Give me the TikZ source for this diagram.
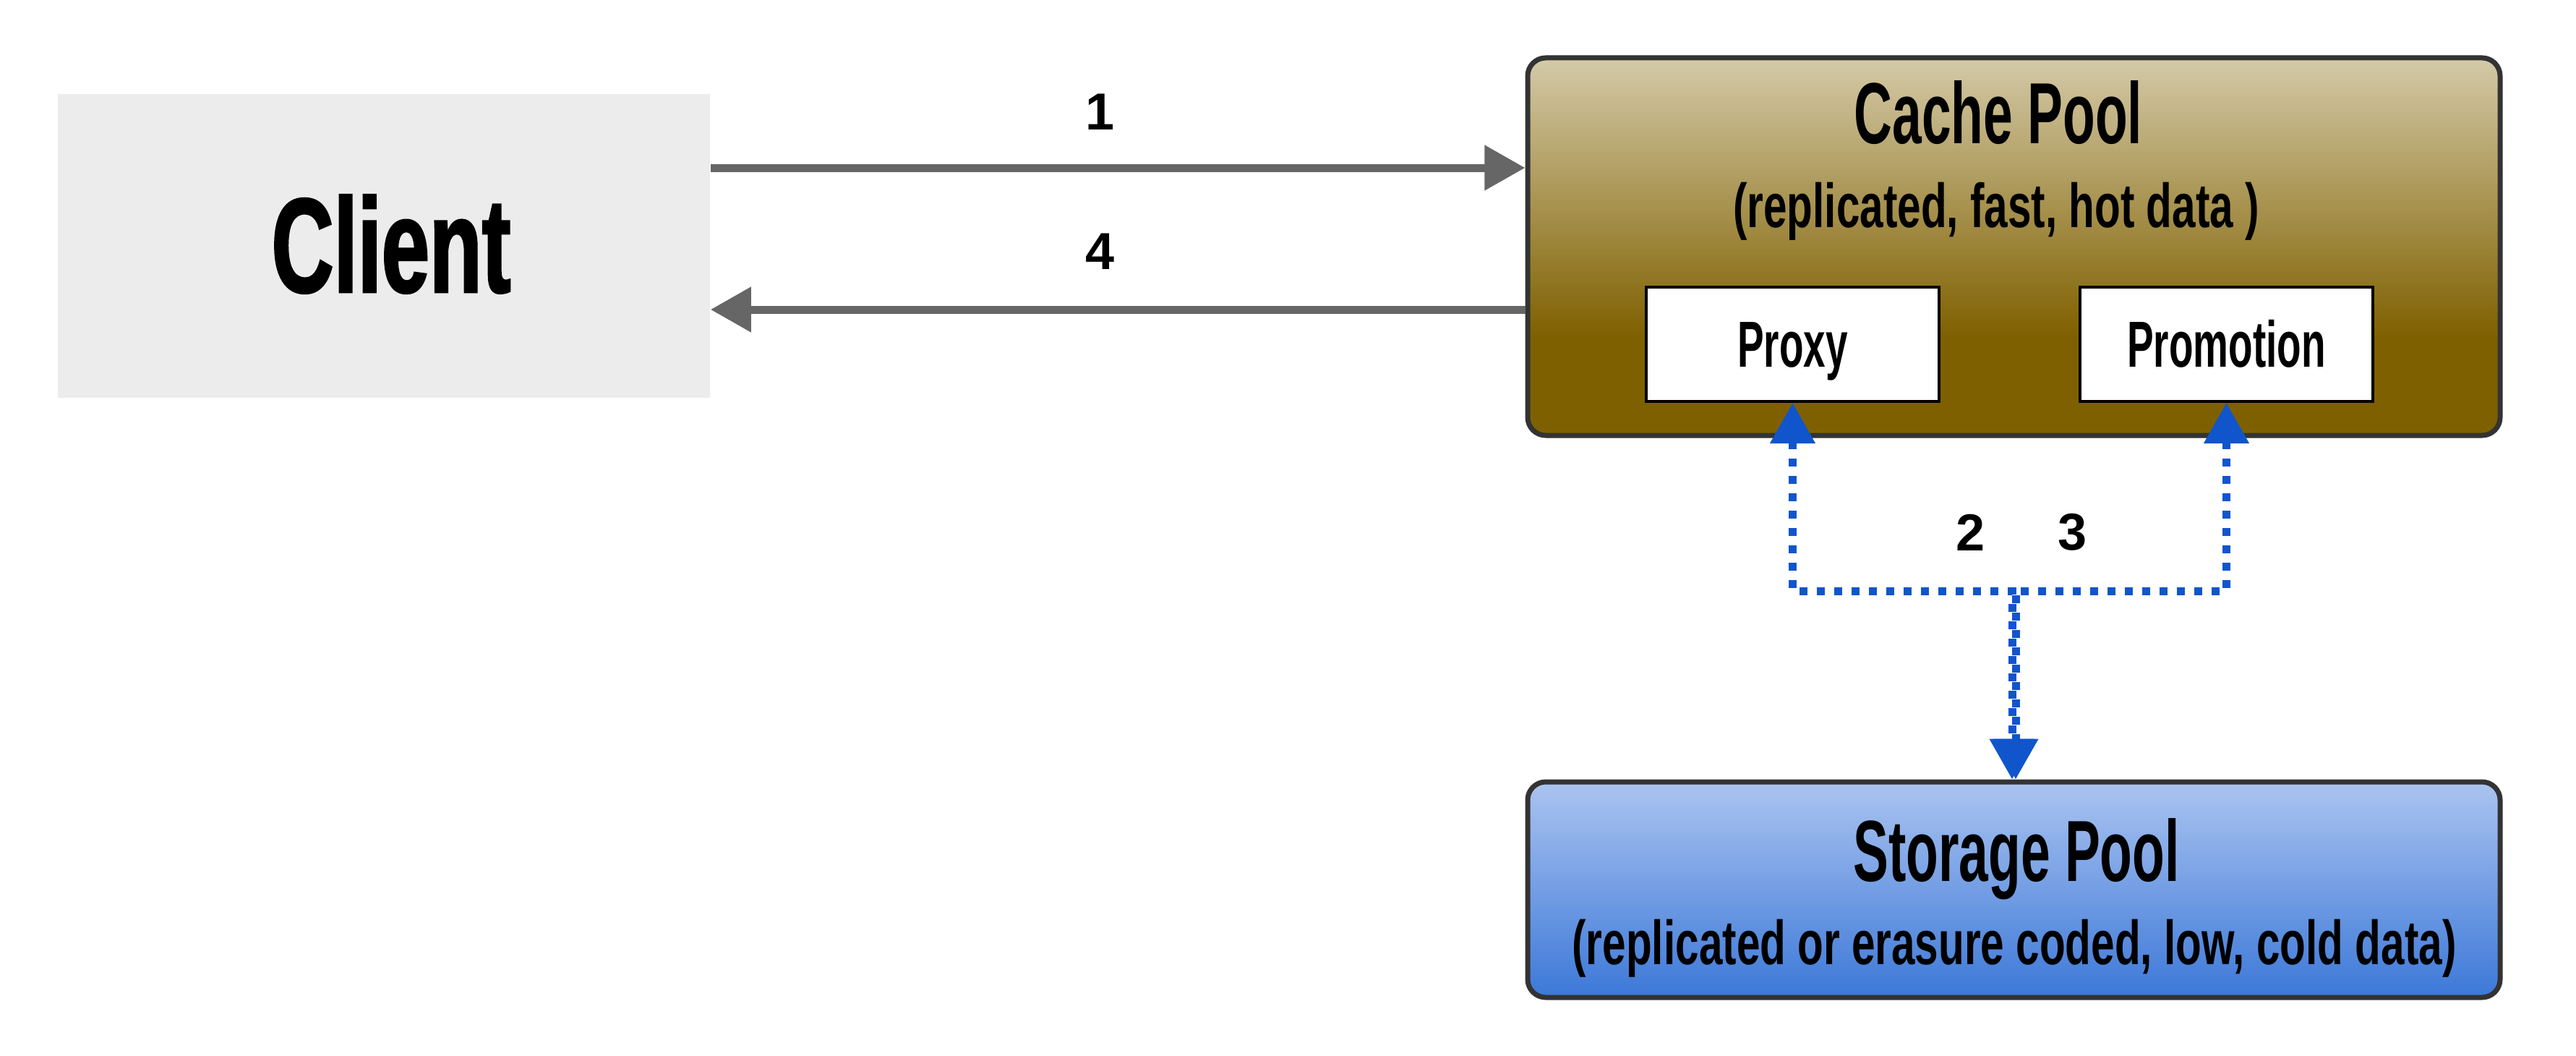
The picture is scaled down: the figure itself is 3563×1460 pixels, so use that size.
\documentclass[tikz,border=0pt]{standalone}
\usepackage{fontspec}
\setmainfont{Liberation Sans}
\newfontfamily\clientfont[FakeStretch=0.64,FakeBold=1.5]{Liberation Sans}
\newfontfamily\titlefont[FakeStretch=0.61]{Liberation Sans}
\newfontfamily\subfont[FakeStretch=0.68]{Liberation Sans}
\usetikzlibrary{arrows.meta}
\definecolor{clientgray}{HTML}{ECECEC}
\definecolor{arrowgray}{HTML}{666666}
\definecolor{bordergray}{HTML}{333333}
\definecolor{cachetop}{HTML}{D4CAA8}
\definecolor{cachebot}{HTML}{7F6000}
\definecolor{stortop}{HTML}{ABC4F0}
\definecolor{storbot}{HTML}{3C78D8}
\definecolor{linkblue}{HTML}{1155CC}
\pgfdeclareverticalshading{cacheshade}{100bp}{color(0bp)=(cachebot); color(38bp)=(cachebot); color(75bp)=(cachetop); color(100bp)=(cachetop)}
\tikzset{
  clientbox/.style={rectangle, fill=clientgray, minimum width=225.5bp, minimum height=105bp, inner sep=0pt},
  poolbox/.style={rectangle, rounded corners=6.25bp, draw=bordergray, line width=1.75bp, minimum width=336.25bp, inner sep=0pt},
  innerbox/.style={rectangle, draw=black, line width=1bp, fill=white, minimum width=101.25bp, minimum height=39.5bp, inner sep=0pt, text height=15.75bp, text depth=0bp, font=\fontsize{22.5bp}{24bp}\titlefont\bfseries},
  clienttext/.style={anchor=base, inner sep=0pt, font=\fontsize{46.5bp}{48bp}\clientfont\bfseries},
  titletext/.style={anchor=base, inner sep=0pt, font=\fontsize{30bp}{32bp}\titlefont\bfseries},
  subtext/.style={anchor=base, inner sep=0pt, font=\fontsize{21.5bp}{23bp}\subfont\bfseries},
  numlabel/.style={inner sep=0pt, font=\fontsize{18bp}{19bp}\bfseries\selectfont},
  grayarrow/.style={draw=arrowgray, line width=2.75bp, -{Triangle[length=14bp,width=15bp]}},
  bluelink/.style={draw=linkblue, line width=2.75bp, dash pattern=on 2.75bp off 3.25bp,
    {Triangle[length=14bp,width=15bp]}-{Triangle[length=14bp,width=15bp]}},
}
\begin{document}
\begin{tikzpicture}[x=0.25bp, y=-0.25bp]
\useasboundingbox (0,0) rectangle (3563,1460);
% client
\node[clientbox] (client) at (531,340) {};
\node[clienttext] (clientlabel) at (541,404) {Client};
% cache pool
\node[poolbox, shading=cacheshade, minimum height=130.5bp] (cache) at (2785.5,341) {};
\node[titletext] (cachetitle) at (2764,198) {Cache Pool};
\node[subtext] (cachesub) at (2761,314) {(replicated, fast, hot data )};
\node[innerbox] (proxy) at (2479.5,476) {Proxy};
\node[innerbox] (promotion) at (3079.5,476) {Promotion};
% storage pool
\node[poolbox, top color=stortop, bottom color=storbot, minimum height=74.5bp] (storage) at (2785.5,1230) {};
\node[titletext] (stortitle) at (2789,1218) {Storage Pool};
\node[subtext] (storsub) at (2786,1333) {(replicated or erasure coded, low, cold data)};
% gray arrows
\coordinate (a1) at (0,232);
\coordinate (a4) at (0,428);
\draw[grayarrow] (client.east |- a1) -- (cache.west |- a1);
\draw[grayarrow] (cache.west |- a4) -- (client.east |- a4);
\node[numlabel] (n1) at (1522,155) {1};
\node[numlabel] (n4) at (1522,348) {4};
% blue links
\coordinate (jl) at (2783,817);
\coordinate (jr) at (2788,817);
\draw[bluelink] (proxy.south) |- (jl) -- (jl |- storage.north);
\draw[bluelink] (promotion.south) |- (jr) -- (jr |- storage.north);
\node[numlabel] (n2) at (2725,736) {2};
\node[numlabel] (n3) at (2866,736) {3};
\end{tikzpicture}
\end{document}
